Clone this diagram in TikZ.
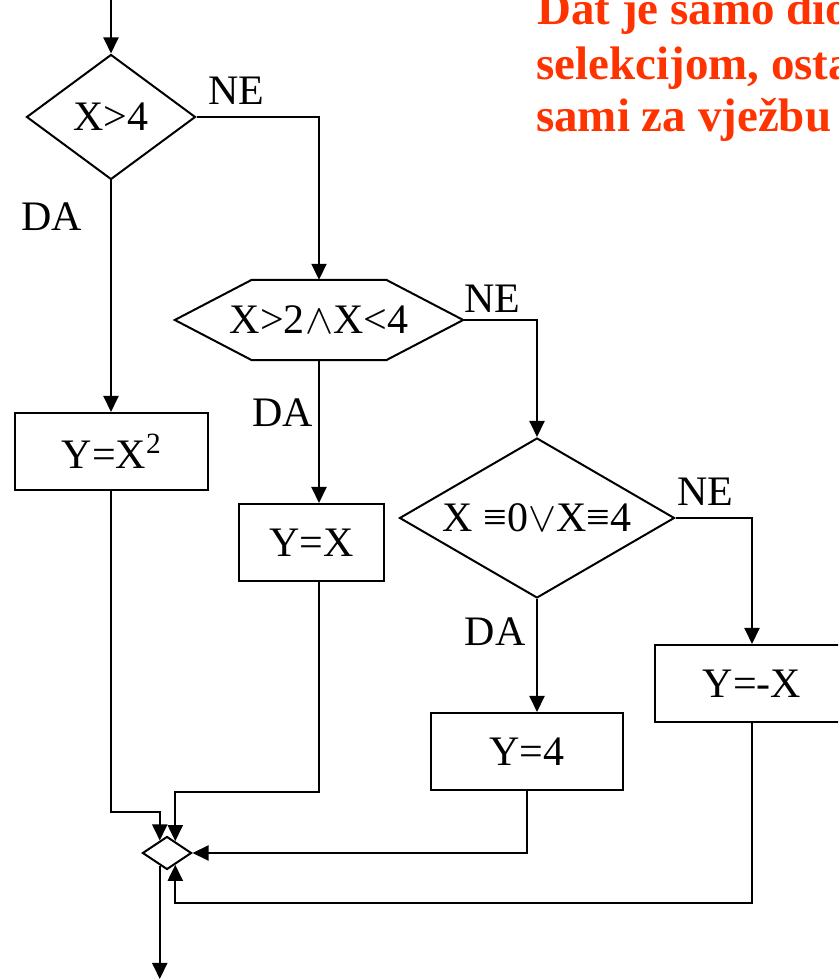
\documentclass[tikz,border=0pt]{standalone}
\usepackage{fix-cm}
\usepackage{fontspec}
\setmainfont{Liberation Serif}
\usetikzlibrary{shapes.geometric,arrows.meta}
\definecolor{notered}{RGB}{255,51,0}
\tikzstyle{decision}=[diamond,draw,line width=2pt,inner sep=0pt,font=\fontsize{42}{48}\selectfont]
\tikzstyle{process}=[rectangle,draw,line width=2pt,minimum height=77pt,inner sep=0pt,font=\fontsize{42}{48}\selectfont]
\tikzstyle{answer}=[inner sep=0pt,font=\fontsize{42}{48}\selectfont]
\tikzstyle{flow}=[line width=2pt,-{Triangle[length=16pt,width=15pt]}]
\tikzstyle{note}=[anchor=base west,inner sep=0pt,text=notered,font=\bfseries\fontsize{47}{54}\selectfont]

\begin{document}
\begin{tikzpicture}[x=1pt,y=1pt]
    \useasboundingbox (0,0) rectangle (838,979);
    \clip (0,0) rectangle (838,979);
    % note at the top right
    \node[note] (txt1) at (537,954) {Dat je samo dio};
    \node[note] (txt2) at (536,899) {selekcijom, osta};
    \node[note] (txt3) at (536,847) {sami za vježbu};

    % tests
    \coordinate (start) at (111,979);
    \node[decision,aspect=1.35,minimum width=169pt,minimum height=125pt] (d1) at (111,862) {X>4};
    \node[answer,minimum width=288pt,minimum height=80pt] (hex) at (319,659) {X>2$\wedge$X<4};
    \draw[line width=2pt,line join=miter] (hex.west) -- ([xshift=77pt]hex.north west) -- ([xshift=-77pt]hex.north east)
        -- (hex.east) -- ([xshift=-77pt]hex.south east) -- ([xshift=77pt]hex.south west) -- cycle;
    \node[decision,aspect=1.72,minimum width=275pt,minimum height=160pt] (d3) at (537,461) {X ≡0$\vee$X≡4};
    \node[decision,minimum width=49pt,minimum height=33pt] (merge) at (167,126) {};

    % assignments
    \node[process,minimum width=193pt] (b1) at (111.5,527.5) {Y=X\textsuperscript{2}};
    \node[process,minimum width=145pt] (b2) at (311.5,436.5) {Y=X};
    \node[process,minimum width=192pt] (b3) at (527,227.5) {Y=4};
    \node[process,minimum width=194pt] (b4) at (752,295.5) {Y=-X};

    % branch labels
    \node[answer] (ne1) at (236,888) {NE};
    \node[answer] (da1) at (52,762)  {DA};
    \node[answer] (ne2) at (492,680) {NE};
    \node[answer] (da2) at (283,566) {DA};
    \node[answer] (ne3) at (705,487) {NE};
    \node[answer] (da3) at (495,347) {DA};

    % connectors
    \draw[flow] (start) -- (d1.north);
    \draw[flow] (d1.east) -| (hex.north);
    \draw[flow] (d1.south) -- (d1.south |- b1.north);
    \draw[flow] (hex.east) -| (d3.north);
    \draw[flow] (hex.south) -- (hex.south |- b2.north);
    \draw[flow] (d3.east) -| (b4.north);
    \draw[flow] (d3.south) -- (d3.south |- b3.north);

    \draw[flow] (b1.south -| d1.south) |- ([yshift=28pt]merge.120) -- (merge.120);
    \draw[flow] (hex.south |- b2.south) |- ([yshift=49pt]merge.55) -- (merge.55);
    \draw[flow] (b3.south) |- (merge.east);
    \draw[flow] (b4.south) |- ([yshift=-38pt]merge.305) -- (merge.305);
    \draw[flow] (merge.240) -- (merge.240 |- 0,0);
\end{tikzpicture}
\end{document}
